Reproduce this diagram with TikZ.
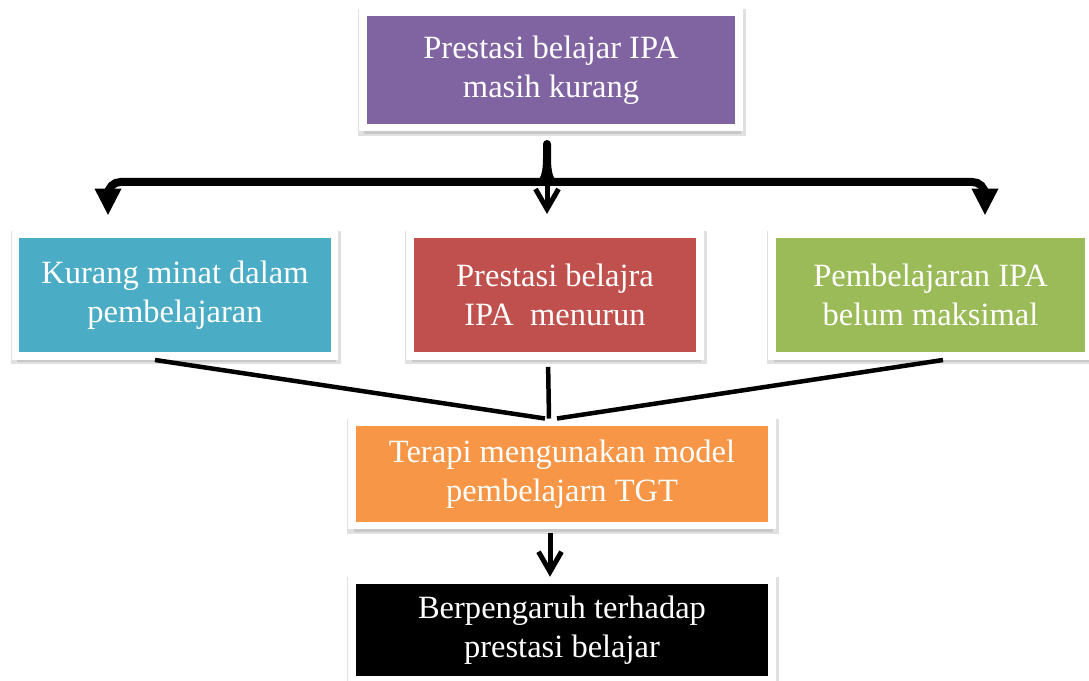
\documentclass[tikz,border=0pt]{standalone}
\usepackage{fontspec}
\setmainfont{Liberation Serif}
\usetikzlibrary{arrows.meta,shadows}

\definecolor{boxpurple}{HTML}{8064A2}
\definecolor{boxcyan}{HTML}{4BACC6}
\definecolor{boxred}{HTML}{C0504D}
\definecolor{boxgreen}{HTML}{9BBB59}
\definecolor{boxorange}{HTML}{F79646}

\tikzset{
  box/.style={rectangle, draw=white, line width=0.15cm, text=white, align=center,
    inner sep=0pt, font=\fontsize{18.5}{22}\selectfont,
    preaction={draw=black, opacity=0.12, line width=0.23cm,
      transform canvas={xshift=0.02cm, yshift=-0.05cm}},
    drop shadow={shadow xshift=0.03cm, shadow yshift=-0.12cm, opacity=0.25}},
  link/.style={line width=0.09cm},
  bracket/.style={line width=0.16cm, rounded corners=0.25cm,
    -{Triangle[width=0.5cm,length=0.54cm]}},
  pointer/.style={line width=0.1cm, -{Straight Barb[width=0.46cm,length=0.4cm]}}
}

\begin{document}
\begin{tikzpicture}[x=0.02cm,y=0.02cm]
    \useasboundingbox (0,0) rectangle (1089,680);
    % boxes
    \node[box, fill=boxpurple, minimum width=7.53cm, minimum height=2.31cm] (masalah) at (551,610)
      {Prestasi belajar IPA\\masih kurang};
    \node[box, fill=boxcyan, minimum width=6.38cm, minimum height=2.45cm] (minat) at (175,385)
      {Kurang minat dalam\\pembelajaran};
    \node[box, fill=boxred, minimum width=5.8cm, minimum height=2.45cm] (menurun) at (555,385)
      {Prestasi belajra\\IPA\ \ menurun};
    \node[box, fill=boxgreen, minimum width=6.34cm, minimum height=2.45cm] (maksimal) at (930.5,385)
      {Pembelajaran IPA\\belum maksimal};
    \node[box, fill=boxorange, minimum width=8.4cm, minimum height=2.07cm] (terapi) at (562,206)
      {Terapi mengunakan model\\pembelajarn TGT};
    \node[box, fill=black, minimum width=8.4cm, minimum height=1.98cm] (hasil) at (562,50)
      {Berpengaruh terhadap\\prestasi belajar};
    % bracket from the top box
    \coordinate (fork) at (547,498);
    \fill (533,498) .. controls (541,498) and (543,508) .. (543,522) -- (543,536)
      arc[start angle=180, end angle=0, radius=0.08cm] -- (551,522)
      .. controls (551,508) and (553,498) .. (561,498) -- cycle;
    \draw[bracket, shorten >=0.29cm] (fork) -| ([xshift=-1.34cm]minat.north);
    \draw[bracket, shorten >=0.29cm] (fork) -| ([xshift=1.09cm]maksimal.north);
    \draw[pointer, shorten >=0.32cm] (fork) -- (fork |- menurun.north);
    % lines into the orange box
    \draw[link] ([xshift=-0.4cm]minat.south) -- ([xshift=-0.34cm]terapi.north);
    \draw[link, shorten <=0.14cm] ([xshift=-0.14cm]menurun.south) -- ([xshift=-0.26cm]terapi.north);
    \draw[link] ([xshift=0.25cm]maksimal.south) -- ([xshift=-0.1cm]terapi.north);
    % arrow to the result
    \draw[pointer, shorten <=0.08cm] ([xshift=-0.24cm]terapi.south) -- ([xshift=-0.24cm]hasil.north);
\end{tikzpicture}
\end{document}
